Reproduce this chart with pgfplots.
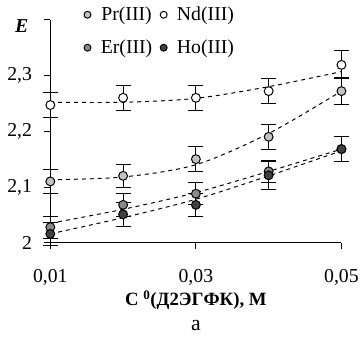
\documentclass[border=0pt]{standalone}
\usepackage{pgfplots}
\pgfplotsset{compat=1.18}
\usepackage{fontspec}
\setmainfont{Liberation Serif}
\definecolor{prcol}{HTML}{C2C2C2}
\definecolor{ercol}{HTML}{8A8A8A}
\definecolor{hocol}{HTML}{404040}
\begin{document}
\begin{tikzpicture}
\path (-51pt,-111pt) rectangle (311pt,246pt);
\begin{axis}[
  scale only axis, width=295pt, height=226pt,
  anchor=south west, at={(0,0)},
  xmin=0.01, xmax=0.05, ymin=2, ymax=2.4,
  scaled x ticks=false, scaled y ticks=false,
  /pgf/number format/assume math mode=true,
  axis lines=left, axis line style={-, line width=0.9pt},
  xtick={0.01,0.03,0.05}, xticklabels={{0,01},{0,03},{0,05}},
  ytick={2,2.1,2.2,2.3,2.4}, yticklabels={2,{2,1},{2,2},{2,3},{}},
  tick align=outside, major tick length=6pt,
  tick style={black, line width=0.9pt},
  ticklabel style={font=\fontsize{20}{23}\selectfont},
  xticklabel style={yshift=-17pt},
  yticklabel style={xshift=-9pt},
  clip=false,
  error bars/error bar style={line width=1pt, black},
  error bars/error mark options={rotate=90, mark size=7.5pt, line width=1pt, black},
  legend columns=2,
  legend style={at={(rel axis cs:0.105,1.075)}, anchor=north west, draw=none, fill=none,
    font=\fontsize{20}{23}\selectfont, row sep=14pt,
    /tikz/every odd column/.append style={column sep=8pt},
    /tikz/every even column/.append style={column sep=6pt}},
  legend image code/.code={\draw[#1, mark size=3.5pt] plot coordinates {(0.2cm,0cm)};},
]
% trend lines
\addplot[forget plot, black, line width=1pt, dash pattern=on 4pt off 4pt, smooth]
  coordinates {(0.01,2.252) (0.02,2.252) (0.03,2.259) (0.04,2.28) (0.05,2.307)};
\addplot[forget plot, black, line width=1pt, dash pattern=on 4pt off 4pt, smooth]
  coordinates {(0.01,2.113) (0.02,2.118) (0.03,2.14) (0.04,2.196) (0.05,2.272)};
\addplot[forget plot, black, line width=1pt, dash pattern=on 4pt off 4pt, smooth]
  coordinates {(0.01,2.035) (0.02,2.06) (0.03,2.09) (0.04,2.128) (0.05,2.168)};
\addplot[forget plot, black, line width=1pt, dash pattern=on 4pt off 4pt, smooth]
  coordinates {(0.01,2.016) (0.02,2.045) (0.03,2.078) (0.04,2.12) (0.05,2.165)};
% data
\addplot[only marks, mark=*, mark size=4.5pt, mark options={fill=prcol, draw=black, line width=1pt},
  error bars/.cd, y dir=both, y explicit]
  coordinates {(0.01,2.11) +- (0,0.021) (0.02,2.12) +- (0,0.02) (0.03,2.15) +- (0,0.022)
               (0.04,2.19) +- (0,0.022) (0.05,2.272) +- (0,0.024)};
\addlegendentry{Pr(III)}
\addplot[only marks, mark=*, mark size=4.5pt, mark options={fill=white, draw=black, line width=1pt},
  error bars/.cd, y dir=both, y explicit]
  coordinates {(0.01,2.247) +- (0,0.022) (0.02,2.26) +- (0,0.022) (0.03,2.26) +- (0,0.022)
               (0.04,2.272) +- (0,0.023) (0.05,2.319) +- (0,0.025)};
\addlegendentry{Nd(III)}
\addplot[only marks, mark=*, mark size=4.5pt, mark options={fill=ercol, draw=black, line width=1pt},
  error bars/.cd, y dir=both, y explicit]
  coordinates {(0.01,2.028) +- (0,0.02) (0.02,2.068) +- (0,0.02) (0.03,2.088) +- (0,0.02)
               (0.04,2.128) +- (0,0.02) (0.05,2.168) +- (0,0.022)};
\addlegendentry{Er(III)}
\addplot[only marks, mark=*, mark size=4.5pt, mark options={fill=hocol, draw=black, line width=1pt},
  error bars/.cd, y dir=both, y explicit]
  coordinates {(0.01,2.016) +- (0,0.02) (0.02,2.051) +- (0,0.022) (0.03,2.068) +- (0,0.02)
               (0.04,2.121) +- (0,0.025) (0.05,2.168) +- (0,0.022)};
\addlegendentry{Ho(III)}
\node[font=\fontsize{20}{23}\selectfont\bfseries\itshape] at (rel axis cs:0,0.97) [xshift=-29pt] {E};
\node[font=\fontsize{19}{22}\selectfont\bfseries] at (rel axis cs:0.5,0) [yshift=-58pt]
  {C \textsuperscript{0}(Д2ЭГФК), М};
\node[font=\fontsize{22}{25}\selectfont] at (rel axis cs:0.5,0) [yshift=-84pt] {а};
\end{axis}
\end{tikzpicture}
\end{document}
